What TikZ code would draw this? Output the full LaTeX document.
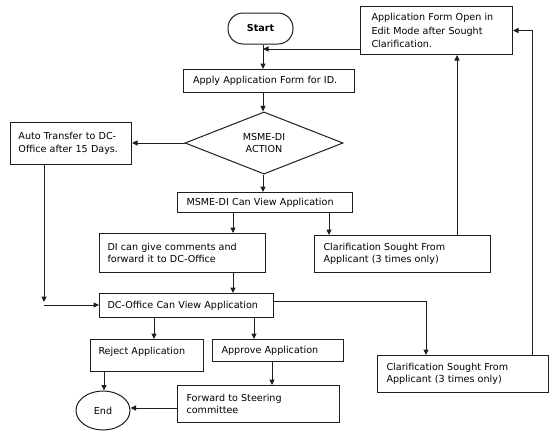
\documentclass[tikz,border=0pt]{standalone}
\usepackage{fontspec}
\setmainfont{DejaVu Sans}
\usetikzlibrary{shapes.geometric,arrows.meta,calc}
\definecolor{lc}{RGB}{30,30,30}
\begin{document}
\begin{tikzpicture}[x=1pt,y=-1pt,
  every node/.style={font=\fontsize{9.6}{12.5}\selectfont, text=black},
  ln/.style={draw=lc, line width=1pt},
  arr/.style={ln, -{Triangle[length=5.5pt,width=5pt]}},
  box/.style={draw=lc, line width=1pt, rectangle, inner xsep=8pt, inner ysep=0pt, align=left, anchor=north west}]
\useasboundingbox (0,0) rectangle (558,437);

% nodes
\node[draw=lc, line width=1pt, rounded corners=15pt, minimum width=65pt, minimum height=31pt, inner sep=0pt,
      font=\fontsize{9.6}{12.5}\selectfont\bfseries] (start) at (260.5,28.5) {Start};
\node[box, inner xsep=11pt, text width=130pt, minimum height=48pt, font=\fontsize{9.6}{13.5}\selectfont] (edit) at (360,6)
  {Application Form Open in\\Edit Mode after Sought\\Clarification.};
\node[box, inner xsep=9.5pt, text width=152pt, minimum height=23pt] (apply) at (183,69) {Apply Application Form for ID.};
\node[diamond, draw=lc, line width=1pt, minimum width=158pt, minimum height=55pt, inner sep=0pt, align=center] (dia) at (264,143) {MSME-DI\\ACTION};
\node[box, text width=105pt, minimum height=42pt] (auto) at (10,122) {Auto Transfer to DC-\\Office after 15 Days.};
\node[box, inner xsep=9pt, text width=157pt, minimum height=20pt] (msme) at (177,192) {MSME-DI Can View Application};
\node[box, inner xsep=9pt, text width=158pt, minimum height=37pt] (clarA) at (314,235) {Clarification Sought From\\Applicant (3 times only)};
\node[box, text width=150pt, minimum height=39pt] (di) at (99,233) {DI can give comments and\\forward it to DC-Office};
\node[box, text width=158pt, minimum height=24pt] (dc) at (99,293) {DC-Office Can View Application};
\node[box, inner xsep=9pt, text width=153pt, minimum height=37pt] (clarB) at (377,355) {Clarification Sought From\\Applicant (3 times only)};
\node[box, text width=97pt, text height=15pt, text depth=17pt] (reject) at (90,339) {Reject Application};
\node[box, inner xsep=9pt, text width=113pt, minimum height=22pt] (approve) at (212,339) {Approve Application};
\node[box, inner xsep=9pt, text width=144pt, minimum height=37pt] (forward) at (177,385) {Forward to Steering\\committee};
\node[ellipse, draw=lc, line width=1pt, minimum width=54pt, minimum height=39pt, inner sep=0pt] (end) at (103,410.5) {End};

% helper coordinates
\coordinate (c1) at (263,0);
\coordinate (c2) at (233,0);
\coordinate (c3) at (329,0);
\coordinate (c4) at (457,0);
\coordinate (c5) at (532,0);
\coordinate (c6) at (104,0);
\coordinate (c7) at (154,0);
\coordinate (c8) at (254,0);
\coordinate (c9) at (272,0);
\coordinate (j1) at (263,49);
\coordinate (j2) at (44,305);
\coordinate (j3) at (426,301);
\coordinate (j4) at (0,408);

% connectors
\draw[arr] (start.south -| c1) -- (apply.north -| c1);
\draw[arr] (edit.west |- j1) -- (j1);
\draw[arr] (apply.south -| c1) -- (dia.north -| c1);
\draw[arr] (dia.west) -- (auto.east |- dia.west);
\draw[arr] (dia.south -| c1) -- (msme.north -| c1);
\draw[arr] (auto.south -| j2) -- ($(j2)+(0,-3)$);
\draw[arr] (j2) -- (dc.west |- j2);
\draw[arr] (msme.south -| c2) -- (di.north -| c2);
\draw[arr] (msme.south -| c3) -- (clarA.north -| c3);
\draw[arr] (clarA.north -| c4) -- (edit.south -| c4);
\draw[arr] (clarB.north -| c5) |- (edit.east);
\draw[arr] (di.south -| c2) -- (dc.north -| c2);
\draw[arr] (dc.east |- j3) -| (clarB.north -| j3);
\draw[arr] (dc.south -| c7) -- (reject.north -| c7);
\draw[arr] (dc.south -| c8) -- (approve.north -| c8);
\draw[arr] (approve.south -| c9) -- (forward.north -| c9);
\draw[arr] (reject.south -| c6) -- (end.north -| c6);
\draw[arr] (forward.west |- j4) -- (end.east |- j4);
\end{tikzpicture}
\end{document}
